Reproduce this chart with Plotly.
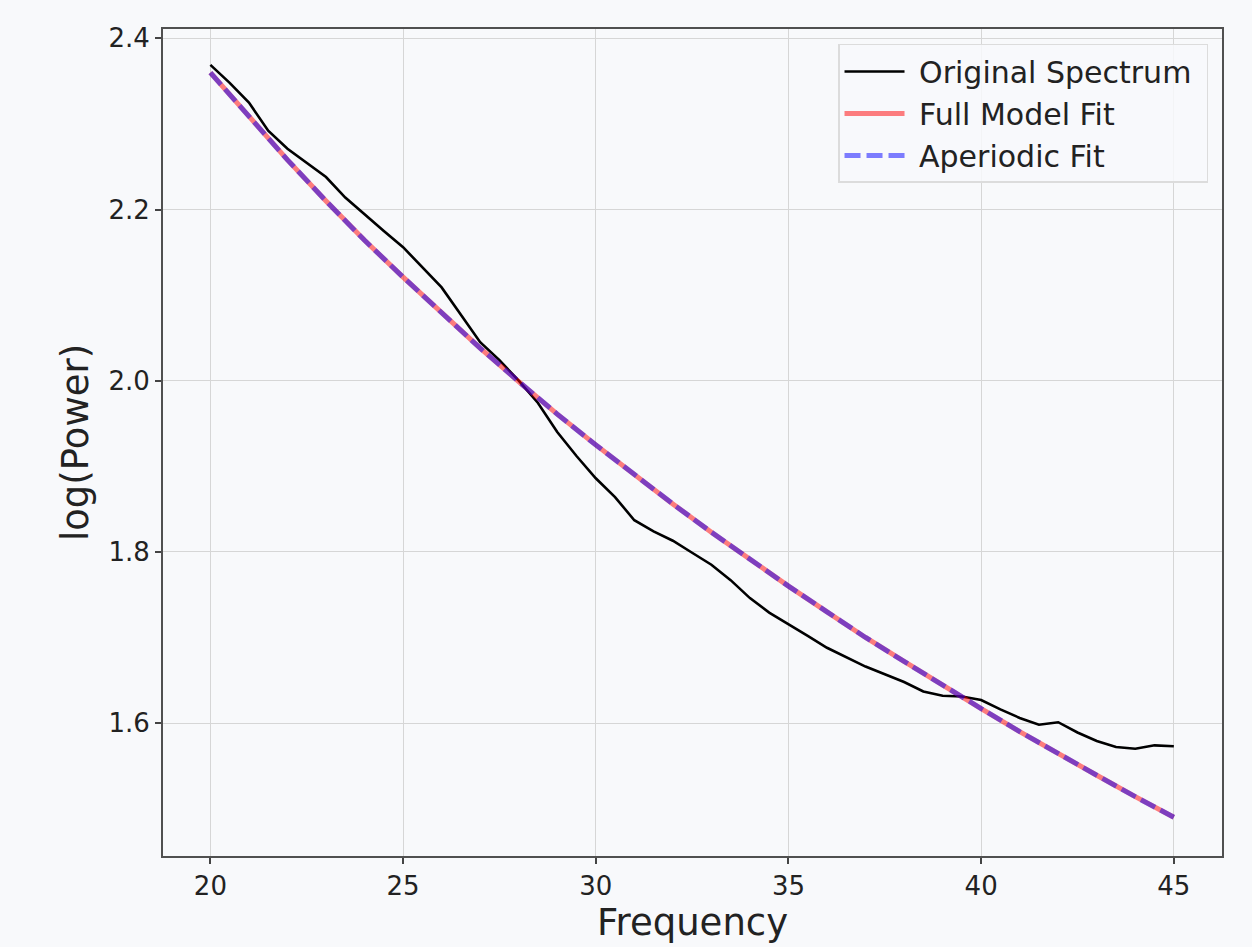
import plotly.graph_objects as go

# Frequencies (Hz) for the original spectrum, 0.5 Hz resolution
freqs = [20.0, 20.5, 21.0, 21.5, 22.0, 22.5, 23.0, 23.5, 24.0, 24.5,
         25.0, 25.5, 26.0, 26.5, 27.0, 27.5, 28.0, 28.5, 29.0, 29.5,
         30.0, 30.5, 31.0, 31.5, 32.0, 32.5, 33.0, 33.5, 34.0, 34.5,
         35.0, 35.5, 36.0, 36.5, 37.0, 37.5, 38.0, 38.5, 39.0, 39.5,
         40.0, 40.5, 41.0, 41.5, 42.0, 42.5, 43.0, 43.5, 44.0, 44.5, 45.0]

original_spectrum = [2.369, 2.348, 2.325, 2.292, 2.271, 2.255, 2.238, 2.214, 2.194, 2.175,
                     2.156, 2.133, 2.109, 2.077, 2.045, 2.024, 2.000, 1.974, 1.940, 1.912,
                     1.886, 1.864, 1.837, 1.824, 1.813, 1.799, 1.785, 1.767, 1.746, 1.729,
                     1.716, 1.702, 1.688, 1.677, 1.666, 1.657, 1.648, 1.637, 1.632, 1.631,
                     1.627, 1.616, 1.606, 1.598, 1.601, 1.589, 1.579, 1.572, 1.570, 1.574, 1.573]

# Fit curves sampled at 1 Hz
fit_freqs = [20, 21, 22, 23, 24, 25, 26, 27, 28, 29, 30, 31, 32,
             33, 34, 35, 36, 37, 38, 39, 40, 41, 42, 43, 44, 45]

full_model_fit = [2.360, 2.308, 2.258, 2.210, 2.164, 2.121, 2.079, 2.038, 1.999,
                  1.961, 1.925, 1.890, 1.856, 1.823, 1.791, 1.760, 1.730, 1.700,
                  1.672, 1.644, 1.617, 1.590, 1.564, 1.539, 1.514, 1.490]

aperiodic_fit = [2.360, 2.308, 2.258, 2.210, 2.164, 2.121, 2.079, 2.038, 1.999,
                 1.961, 1.925, 1.890, 1.856, 1.823, 1.791, 1.760, 1.730, 1.700,
                 1.672, 1.644, 1.617, 1.590, 1.564, 1.539, 1.514, 1.490]

series_names = ["Original Spectrum", "Full Model Fit", "Aperiodic Fit"]

x_ticks = [20, 25, 30, 35, 40, 45]
y_ticks = [1.6, 1.8, 2.0, 2.2, 2.4]

BG = "#f8f9fb"
FONT = "DejaVu Sans"
NB = "\u00a0"  # non-breaking space used as legend padding

fig = go.Figure()
fig.add_trace(go.Scatter(x=freqs, y=original_spectrum, mode="lines",
                         name=NB + series_names[0] + NB,
                         line=dict(color="black", width=2.6)))
fig.add_trace(go.Scatter(x=fit_freqs, y=full_model_fit, mode="lines",
                         name=NB + series_names[1],
                         line=dict(color="rgba(255,0,0,0.5)", width=5)))
fig.add_trace(go.Scatter(x=fit_freqs, y=aperiodic_fit, mode="lines",
                         name=NB + series_names[2],
                         line=dict(color="rgba(0,0,255,0.5)", width=5,
                                   dash="16px,6px")))

axis_common = dict(
    showgrid=True, gridcolor="#d6d6d6", gridwidth=1,
    showline=True, linecolor="#505050", linewidth=2, mirror=True,
    ticks="outside", ticklen=6, tickwidth=1.5, tickcolor="#444",
    tickfont=dict(family=FONT, size=26, color="#222"),
    zeroline=False,
)

fig.update_xaxes(range=[18.77, 46.25], tickvals=x_ticks,
                 title=dict(text="Frequency", standoff=6,
                            font=dict(family=FONT, size=37, color="#222")),
                 **axis_common)
fig.update_yaxes(range=[1.4447, 2.4109], tickvals=y_ticks, tickformat=".1f",
                 title=dict(text="log(Power)", standoff=8,
                            font=dict(family=FONT, size=37, color="#222")),
                 **axis_common)

fig.update_layout(
    width=1252, height=947, autosize=False,
    margin=dict(l=163, r=30, t=29, b=91),
    paper_bgcolor=BG, plot_bgcolor=BG,
    font=dict(family=FONT, color="#222"),
    showlegend=True,
    legend=dict(x=0.9868, y=0.9819, xanchor="right", yanchor="top",
                bgcolor="rgba(248,249,251,0.85)", bordercolor="#dcdcdc",
                borderwidth=1.5,
                font=dict(family=FONT, size=30, color="#222"),
                itemwidth=60),
)

fig.write_html(
    "out.html",
    config={"displayModeBar": False},
    post_script="document.body.style.margin='0';document.body.style.background='#f8f9fb';",
)
